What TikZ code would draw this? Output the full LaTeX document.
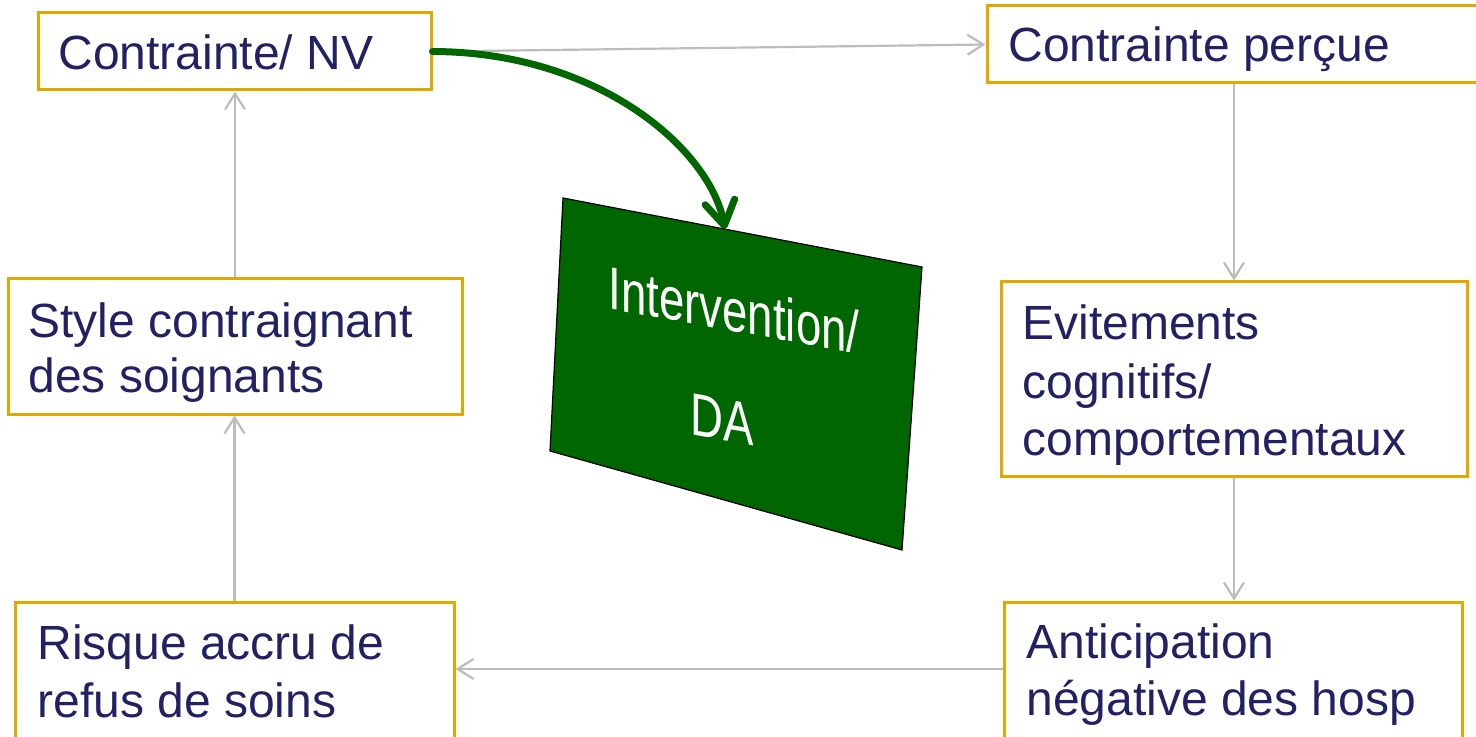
\documentclass[tikz,border=0pt]{standalone}
\usepackage{fontspec}
\setmainfont{Liberation Sans}
\usetikzlibrary{arrows.meta}
\definecolor{navy}{RGB}{33,33,99}
\definecolor{gold}{RGB}{224,168,0}
\definecolor{lgray}{RGB}{188,188,188}
\definecolor{dgreen}{RGB}{0,102,0}
\begin{document}
\begin{tikzpicture}[x=0.5pt,y=-0.5pt,
  box/.style={draw=gold, line width=1.5pt, rectangle, inner sep=0pt},
  lbl/.style={anchor=base west, inner sep=0pt, text=navy, font=\fontsize{24}{28.8}\selectfont},
  wlbl/.style={inner sep=0pt, text=white, font=\fontsize{30}{32}\selectfont, yslant=-0.18},
  conn/.style={draw=lgray, line width=1.1pt, -{Straight Barb[length=8pt,width=10pt]}},
  gconn/.style={draw=dgreen, line width=3.5pt, line cap=round, -{Straight Barb[length=12pt,width=15pt,line cap=round,line join=round]}},
  quad/.style={fill=dgreen, draw=black, line width=0.6pt}
]
\useasboundingbox (0,0) rectangle (1476,737);
\clip (0,0) rectangle (1476,737);
% boxes
\node[box, minimum width=196.5pt, minimum height=38.5pt] (nv) at (234.5,51.5) {};
\node[box, minimum width=247pt, minimum height=38.5pt] (pc) at (1234,44.5) {};
\node[box, minimum width=233pt, minimum height=97pt] (ev) at (1234,379) {};
\node[box, minimum width=229pt, minimum height=71.5pt] (an) at (1233,673.5) {};
\node[box, minimum width=219.5pt, minimum height=71.5pt] (rq) at (234.5,673.5) {};
\node[box, minimum width=227pt, minimum height=67.5pt] (st) at (235,346.5) {};
% texts
\node[lbl] (tnv) at (58,70) {Contrainte/ NV};
\node[lbl] (tpc) at (1008,62) {Contrainte perçue};
\node[lbl] (tst1) at (28,337) {Style contraignant};
\node[lbl] (tst2) at (28,393) {des soignants};
\node[lbl] (tev1) at (1022,340) {Evitements};
\node[lbl] (tev2) at (1022,398) {cognitifs/};
\node[lbl] (tev3) at (1022,455) {comportementaux};
\node[lbl] (tan1) at (1026,658) {Anticipation};
\node[lbl] (tan2) at (1026,715) {négative des hosp};
\node[lbl] (trq1) at (37,659) {Risque accru de};
\node[lbl] (trq2) at (37,717) {refus de soins};
% intervention shape
\path[quad] (563,198) -- (922,267) -- (902,550) -- (550,451) -- cycle;
\coordinate (ivtop) at (725,229);
\node[wlbl] (tiv1) at (734,310) {\scalebox{0.76}[1]{Intervention/}};
\node[wlbl] (tiv2) at (722,420) {\scalebox{0.76}[1]{DA}};
% connectors
\draw[conn] (nv.east) -- (pc.west);
\draw[conn] (pc.south) -- (ev.north);
\draw[conn] (ev.south) -- (ev.south |- an.north);
\draw[conn] ([yshift=2.25pt]an.west) -- ([yshift=2.25pt]rq.east);
\draw[conn] (rq.north) -- (rq.north |- st.south);
\draw[conn] (st.north) -- (st.north |- nv.south);
\draw[gconn] (nv.east) .. controls (600,52) and (710,150) .. (ivtop);
\end{tikzpicture}
\end{document}
